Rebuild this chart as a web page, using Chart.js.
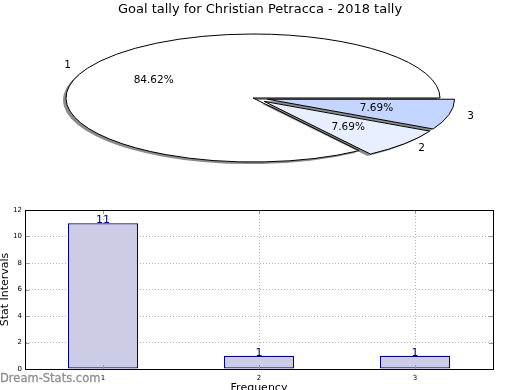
<!DOCTYPE html>
<html>
<head>
<meta charset="utf-8">
<script src="https://cdn.jsdelivr.net/npm/chart.js@4.4.1/dist/chart.umd.min.js"></script>
<style>
body { margin: 0; background: #fff; }
#wrap { position: relative; width: 520px; height: 390px; overflow: hidden; background: #fff; }
#pie { position: absolute; left: 0; top: 0; }
#bar { position: absolute; left: 0; top: 200px; }
#mark { position: absolute; left: 0; top: 371px; font: 11.5px "DejaVu Sans", sans-serif; color: #909090; white-space: nowrap; -webkit-text-stroke: 0.3px #909090; }
</style>
</head>
<body>
<div id="wrap">
    <canvas id="pie" width="520" height="200"></canvas>
    <canvas id="bar" width="520" height="190"></canvas>
    <div id="mark">Dream-Stats.com</div>
</div>
<script>
// data
const titleText = "Goal tally for Christian Petracca - 2018 tally"
const pieLabels = ["1", "2", "3"]
const pieValues = [11, 1, 1]
const pieColors = ["#ffffff", "#e8f0ff", "#c4d6ff"]
const pieExplode = [0, 0.08, 0.08]

const barLabels = ["1", "2", "3"]
const barValues = [11, 1, 1]
const yTicks = [0, 2, 4, 6, 8, 10, 12]

// pie ellipse on screen
const RX = 187, RY = 64, CX = 253, CY = 98
const font = "DejaVu Sans"

function pieCenter(chart) {
    const a = chart.chartArea
    return { ox: (a.left + a.right) / 2, oy: (a.top + a.bottom) / 2 }
}

// squash the circle into a flat ellipse, flip so slices run counter clockwise
const ellipsePlugin = {
    id: "ellipse",
    beforeDatasetsDraw(chart) {
        const ctx = chart.ctx
        const { ox, oy } = pieCenter(chart)
        chart.getDatasetMeta(0).data.forEach((arc, i) => {
            const mid = (arc.startAngle + arc.endAngle) / 2
            arc.x = ox + Math.cos(mid) * pieExplode[i] * RX
            arc.y = oy + Math.sin(mid) * pieExplode[i] * RX
        })
        ctx.save()
        ctx.translate(CX, CY)
        ctx.scale(1, -RY / RX)
        ctx.translate(-ox, -oy)
        ctx.shadowColor = "rgba(0,0,0,0.45)"
        ctx.shadowOffsetX = -3
        ctx.shadowOffsetY = 2
        // keep the outline 1px thick and without shadow
        ctx.stroke = function () {
            this.save()
            this.setTransform(1, 0, 0, 1, 0, 0)
            this.shadowColor = "rgba(0,0,0,0)"
            CanvasRenderingContext2D.prototype.stroke.apply(this, arguments)
            this.restore()
        }
    },
    afterDatasetsDraw(chart) {
        const ctx = chart.ctx
        delete ctx.stroke
        ctx.restore()
        const { ox, oy } = pieCenter(chart)
        const total = pieValues.reduce((s, v) => s + v, 0)
        const k = RY / RX
        ctx.save()
        ctx.font = "10.5px " + font
        ctx.fillStyle = "#000"
        chart.getDatasetMeta(0).data.forEach((arc, i) => {
            const mid = (arc.startAngle + arc.endAngle) / 2
            const px = r => CX + (arc.x - ox) + r * RX * Math.cos(mid)
            const py = r => CY - k * ((arc.y - oy) + r * RX * Math.sin(mid))
            ctx.textAlign = "center"
            ctx.textBaseline = "middle"
            ctx.fillText((pieValues[i] / total * 100).toFixed(2) + "%", px(0.6), py(0.6))
            ctx.textAlign = Math.cos(mid) > 0 ? "left" : "right"
            ctx.fillText(pieLabels[i], px(1.1), py(1.1))
        })
        ctx.restore()
    }
}

new Chart(document.getElementById("pie"), {
    type: "pie",
    data: {
        labels: pieLabels,
        datasets: [{
            data: pieValues,
            backgroundColor: pieColors,
            borderColor: "#000",
            borderWidth: 1,
            clip: false
        }]
    },
    options: {
        responsive: false,
        animation: false,
        events: [],
        rotation: 90,
        radius: RX,
        plugins: {
            legend: { display: false },
            tooltip: { enabled: false },
            title: {
                display: true,
                text: titleText,
                color: "#000",
                font: { family: font, size: 13, weight: "normal" },
                padding: { top: 2, bottom: 0 }
            }
        }
    },
    plugins: [ellipsePlugin]
})

// box round the plot, inward ticks and value labels on the bars
const framePlugin = {
    id: "frame",
    afterDraw(chart) {
        const ctx = chart.ctx
        const a = chart.chartArea
        const y = chart.scales.y, x = chart.scales.x
        ctx.save()
        ctx.strokeStyle = "#999"
        ctx.lineWidth = 1
        ctx.beginPath()
        yTicks.forEach(v => {
            const p = Math.round(y.getPixelForValue(v)) + 0.5
            ctx.moveTo(a.left, p); ctx.lineTo(a.left + 4, p)
            ctx.moveTo(a.right, p); ctx.lineTo(a.right - 4, p)
        })
        barLabels.forEach((l, i) => {
            const p = Math.round(x.getPixelForTick(i)) + 0.5
            ctx.moveTo(p, a.bottom); ctx.lineTo(p, a.bottom - 4)
            ctx.moveTo(p, a.top); ctx.lineTo(p, a.top + 4)
        })
        ctx.stroke()
        ctx.strokeStyle = "#000"
        ctx.strokeRect(Math.round(a.left) + 0.5, Math.round(a.top) + 0.5, Math.round(a.right - a.left), Math.round(a.bottom - a.top))
        ctx.font = "11px " + font
        ctx.fillStyle = "#000080"
        ctx.textAlign = "center"
        ctx.textBaseline = "alphabetic"
        chart.getDatasetMeta(0).data.forEach((bar, i) => {
            ctx.fillText(String(barValues[i]), bar.x, bar.y)
        })
        ctx.restore()
    }
}

new Chart(document.getElementById("bar"), {
    type: "bar",
    data: {
        labels: barLabels,
        datasets: [{
            data: barValues,
            backgroundColor: "rgb(204,204,230)",
            borderColor: "#000080",
            borderWidth: 1.3,
            borderSkipped: false,
            barPercentage: 0.45,
            categoryPercentage: 1
        }]
    },
    options: {
        responsive: false,
        animation: false,
        events: [],
        layout: { padding: { top: 10, right: 27, left: 0, bottom: 0 } },
        plugins: { legend: { display: false }, tooltip: { enabled: false } },
        scales: {
            x: {
                z: 1,
                grid: { offset: false, drawTicks: false, color: "#b4b4b4" },
                border: { display: true, color: "#000", width: 1, dash: [1, 2] },
                ticks: { color: "#000", font: { family: font, size: 7 }, padding: 5 },
                title: { display: true, text: "Frequency", color: "#000", font: { family: font, size: 11 }, padding: { top: 0, bottom: -5 } },
                afterFit: s => { s.height = 21 }
            },
            y: {
                z: 1,
                min: 0,
                max: 12,
                grid: { drawTicks: false, color: "#b4b4b4" },
                border: { display: true, color: "#000", width: 1, dash: [1, 2] },
                ticks: { stepSize: 2, color: "#000", font: { family: font, size: 7 }, padding: 3 },
                title: { display: true, text: "Stat Intervals", color: "#000", font: { family: font, size: 11 }, padding: { top: -1.5, bottom: 0 } },
                afterFit: s => { s.width = 25 }
            }
        }
    },
    plugins: [framePlugin]
})
</script>
</body>
</html>
